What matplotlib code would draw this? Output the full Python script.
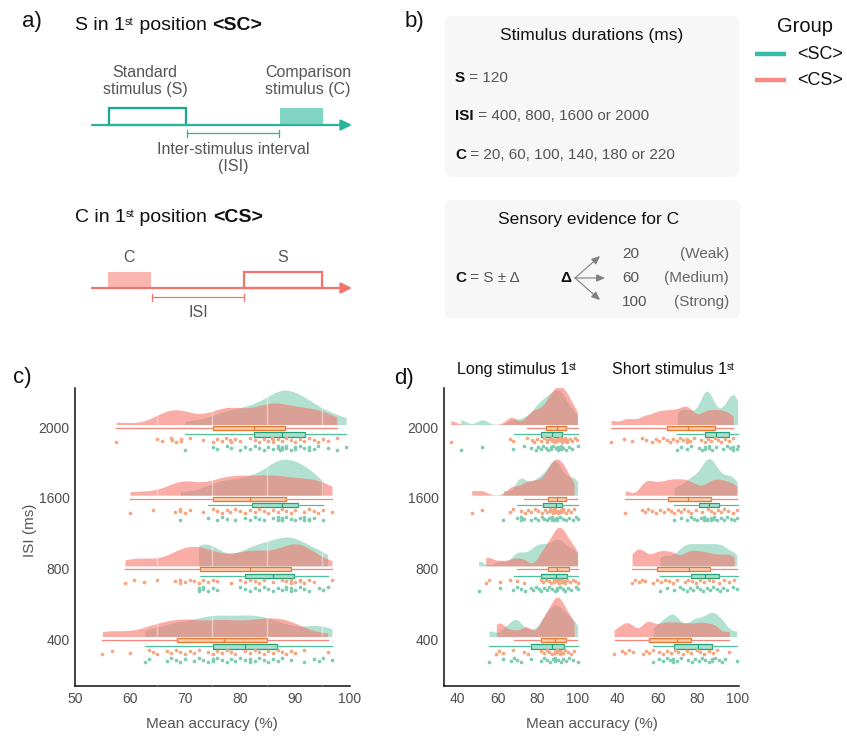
import matplotlib
matplotlib.use("Agg")
import matplotlib.pyplot as plt
import numpy as np
from matplotlib.patches import FancyBboxPatch, Rectangle

plt.rcParams["font.family"] = ["Liberation Sans", "DejaVu Sans"]

BLACK = "#111111"
GRAY = "#555555"
LIGHT_GRAY = "#666666"
TICK_GRAY = "#4D4D4D"

SC_DENS = "#66C2A5"
CS_DENS = "#F8766D"
SC_DOT = "#7ECDB2"
CS_DOT = "#F7A67F"
SC_EDGE = "#22A07A"
CS_EDGE = "#E5762C"
SC_FACE = "#A9DFCB"
CS_FACE = "#FBCBAA"
SC_WHISK = "#4FC29B"
CS_WHISK = "#F6857C"

TEAL_LINE = "#2BB39B"
TEAL_EDGE = "#14A88F"
TEAL_FILL = "#7FD4C4"
SALMON_LINE = "#F4736B"
SALMON_FILL = "#F9B6B0"

ISI_TICKS = [0, 1, 2, 3]
ISI_LABELS = ["400", "800", "1600", "2000"]

# ---- panel c: mean accuracy (%) per participant ----
C_CS_400 = [55.0, 56.7, 60.0, 63.4, 64.2, 65.0, 66.7, 67.5, 68.4, 69.2, 70.1, 70.9, 71.7, 72.5,
            74.2, 75.1, 75.9, 76.8, 77.6, 78.4, 79.2, 80.9, 81.8, 82.7, 83.5, 84.4, 85.2, 86.0,
            86.9, 87.7, 88.5, 89.4, 90.1, 91.8, 96.0]
C_SC_400 = [62.7, 63.4, 66.7, 67.5, 68.4, 69.2, 70.1, 71.7, 72.5, 73.4, 74.2, 75.1, 75.1, 75.9,
            76.8, 77.6, 78.4, 79.2, 80.1, 80.9, 81.8, 81.8, 82.7, 83.5, 84.4, 85.2, 86.0, 86.9,
            87.7, 89.4, 91.8, 93.5, 94.4, 95.2, 96.8]
C_CS_800 = [59.1, 60.8, 62.5, 65.0, 68.2, 69.2, 69.2, 70.1, 70.9, 71.7, 72.5, 73.4, 74.2, 75.1,
            75.9, 78.4, 80.1, 80.9, 81.8, 82.7, 83.5, 84.4, 86.0, 87.7, 88.5, 89.4, 89.4, 90.1,
            90.9, 90.9, 91.8, 92.7, 93.5, 96.8]
C_SC_800 = [72.5, 72.5, 72.5, 73.4, 73.4, 74.2, 75.1, 75.9, 80.1, 80.9, 81.8, 82.7, 83.5, 84.4,
            85.2, 86.0, 86.9, 87.7, 88.5, 88.5, 89.4, 89.4, 90.1, 90.9, 91.8, 92.7, 94.4, 95.2, 96.0]
C_CS_1600 = [60.0, 64.2, 68.2, 69.2, 69.2, 70.1, 70.9, 73.4, 75.1, 75.9, 76.8, 77.6, 78.3, 79.2,
             80.1, 80.9, 81.8, 82.7, 83.5, 84.4, 85.2, 86.0, 86.9, 87.7, 88.5, 89.4, 90.1, 91.8,
             92.7, 93.5, 94.3, 95.2, 96.8]
C_SC_1600 = [69.2, 74.3, 75.9, 76.8, 77.6, 79.2, 80.9, 81.8, 82.7, 83.5, 84.4, 86.0, 86.9, 86.9,
             86.9, 87.7, 87.7, 87.7, 88.5, 89.4, 90.1, 90.9, 91.8, 91.8, 92.7, 92.7, 93.5, 95.2]
C_CS_2000 = [57.5, 65.0, 65.8, 67.5, 67.6, 68.4, 69.3, 69.3, 70.9, 73.4, 75.1, 75.9, 76.8, 77.5,
             78.3, 78.5, 79.2, 80.1, 81.8, 82.7, 83.5, 84.4, 85.2, 85.9, 86.0, 86.0, 86.9, 87.7,
             88.5, 89.4, 90.1, 90.9, 91.7, 92.7, 93.5, 94.3, 95.2, 96.0, 97.7]
C_SC_2000 = [70.1, 75.1, 75.9, 77.6, 78.5, 80.1, 80.9, 81.8, 82.7, 83.5, 84.4, 85.2, 86.0, 86.9,
             86.9, 87.4, 87.7, 87.7, 88.5, 88.5, 89.4, 90.1, 90.1, 90.9, 91.8, 92.6, 92.6, 93.5,
             94.3, 96.0, 97.7, 99.4]

# box summaries: (lower whisker, q1, median, q3, upper whisker)
C_CS_400_BOX = (55.0, 68.6, 77.2, 85.0, 96.0)
C_SC_400_BOX = (62.7, 75.1, 80.9, 86.8, 96.8)
C_CS_800_BOX = (59.1, 72.8, 81.8, 89.4, 96.8)
C_SC_800_BOX = (72.7, 80.9, 86.0, 89.8, 96.0)
C_CS_1600_BOX = (60.0, 75.1, 81.8, 88.5, 96.8)
C_SC_1600_BOX = (74.3, 82.2, 87.7, 90.6, 95.2)
C_CS_2000_BOX = (57.5, 75.1, 82.6, 88.3, 97.7)
C_SC_2000_BOX = (70.1, 82.6, 87.7, 91.9, 99.4)

# ---- panel d: long stimulus first ----
L_CS_400 = [59.4, 60.8, 62.9, 67.9, 73.3, 75.3, 81.9, 83.3, 84.6, 85.9, 87.3, 88.6, 88.6, 89.9,
            89.9, 91.3, 91.3, 92.6, 93.9, 95.3, 96.6, 98.3]
L_SC_400 = [55.8, 62.9, 66.6, 68.3, 69.9, 71.9, 76.9, 81.9, 83.3, 84.9, 86.3, 87.6, 88.9, 88.9,
            90.3, 91.6, 92.9, 94.3, 95.9, 97.6, 100.0]
L_CS_800 = [54.1, 55.8, 61.1, 66.3, 69.9, 73.3, 81.6, 82.9, 84.3, 85.6, 86.9, 88.3, 88.3, 89.6,
            89.6, 90.9, 90.9, 92.3, 92.3, 93.6, 93.6, 94.9, 96.3, 97.6, 98.9, 100.0]
L_SC_800 = [50.6, 61.1, 67.9, 69.6, 71.8, 73.6, 76.6, 77.9, 79.3, 80.6, 81.9, 83.3, 84.6, 85.9,
            87.3, 88.6, 89.9, 89.9, 91.3, 92.6, 93.9, 95.3, 96.9, 99.1, 100.0]
L_CS_1600 = [47.1, 52.4, 66.3, 67.9, 71.6, 73.6, 75.4, 76.9, 78.6, 80.4, 82.1, 83.6, 84.9, 86.3,
             86.3, 87.6, 87.6, 88.9, 88.9, 90.3, 90.3, 91.6, 91.6, 92.9, 92.9, 94.3, 95.4, 96.6, 98.3]
L_SC_1600 = [62.9, 69.9, 71.6, 71.6, 73.3, 76.9, 78.6, 80.4, 82.1, 83.3, 84.6, 85.9, 87.3, 87.3,
             88.6, 88.6, 89.9, 89.9, 91.3, 92.6, 94.1, 95.8, 97.6, 99.3, 100.0]
L_CS_2000 = [36.6, 66.1, 67.7, 74.9, 77.1, 78.3, 79.9, 81.6, 83.3, 84.9, 84.9, 86.3, 87.4, 87.4,
             88.8, 88.8, 89.9, 89.9, 91.1, 91.1, 92.4, 92.4, 93.6, 93.6, 94.9, 94.9, 96.3, 97.4,
             98.8, 99.9]
L_SC_2000 = [41.6, 52.4, 67.9, 73.3, 76.9, 79.1, 80.4, 81.6, 82.8, 84.1, 85.3, 86.6, 86.6, 87.8,
             89.1, 90.3, 90.3, 91.6, 91.6, 92.9, 94.3, 95.8, 97.4, 100.0]

L_CS_400_BOX = (68.3, 81.9, 88.8, 94.3, 99.6)
L_SC_400_BOX = (55.8, 76.9, 87.4, 93.3, 100.0)
L_CS_800_BOX = (69.9, 85.4, 89.9, 95.9, 100.0)
L_SC_800_BOX = (68.3, 81.9, 89.1, 94.9, 100.0)
L_CS_1600_BOX = (73.3, 85.4, 89.9, 94.4, 99.6)
L_SC_1600_BOX = (69.9, 82.9, 89.1, 92.4, 100.0)
L_CS_2000_BOX = (74.8, 84.1, 89.9, 94.4, 100.0)
L_SC_2000_BOX = (68.3, 81.9, 87.1, 92.4, 100.0)

# ---- panel d: short stimulus first ----
S_CS_400 = [38.3, 42.1, 43.8, 45.9, 47.6, 52.6, 54.3, 55.9, 57.6, 60.6, 62.6, 64.6, 66.6, 68.8,
            70.4, 72.9, 74.9, 76.9, 79.6, 81.3, 83.3, 85.6, 87.9, 89.9, 95.9]
S_SC_400 = [57.9, 60.9, 62.9, 64.6, 66.3, 67.9, 67.9, 69.9, 71.9, 75.3, 77.3, 78.9, 80.6, 82.3,
            83.9, 85.6, 87.3, 87.3, 88.9, 90.6, 92.3, 93.9, 99.6]
S_CS_800 = [47.3, 48.9, 50.6, 52.3, 53.9, 57.6, 59.6, 61.6, 63.6, 65.6, 67.6, 69.9, 73.6, 75.3,
            77.3, 79.3, 81.3, 83.3, 85.6, 87.9, 90.6, 93.3, 95.9, 98.3]
S_SC_800 = [61.3, 64.6, 68.3, 71.3, 72.9, 74.6, 76.3, 77.9, 79.6, 81.3, 82.9, 84.6, 86.3, 87.9,
            89.6, 91.3, 92.9, 94.6, 97.6, 99.6]
S_CS_1600 = [43.8, 52.1, 53.8, 55.4, 57.1, 59.3, 61.3, 63.3, 65.1, 66.8, 68.4, 70.1, 71.8, 73.4,
             75.1, 76.8, 79.1, 82.1, 85.1, 86.8, 88.4, 90.1, 91.8, 93.4, 95.4, 97.6, 99.6]
S_SC_1600 = [68.3, 71.8, 74.9, 76.6, 78.3, 79.9, 81.6, 83.3, 83.3, 84.9, 84.9, 86.6, 86.6, 88.3,
             88.3, 89.9, 91.6, 93.3, 94.9, 96.6, 98.3, 99.9]
S_CS_2000 = [36.8, 43.4, 47.3, 52.4, 54.1, 57.4, 59.3, 60.9, 62.9, 64.6, 66.3, 67.9, 69.6, 71.3,
             72.9, 74.6, 74.6, 76.3, 78.4, 81.8, 83.6, 85.3, 86.9, 88.6, 90.3, 91.9, 93.8, 95.6, 97.9]
S_SC_2000 = [69.9, 71.6, 74.9, 76.6, 80.6, 82.3, 83.9, 83.9, 85.6, 85.6, 87.3, 89.3, 92.9, 94.6,
             96.3, 97.9, 97.9, 99.6, 100.0]

S_CS_400_BOX = (38.8, 55.9, 69.9, 76.9, 95.9)
S_SC_400_BOX = (57.9, 68.3, 80.4, 87.4, 99.6)
S_CS_800_BOX = (47.3, 59.9, 75.9, 86.3, 99.6)
S_SC_800_BOX = (61.3, 76.9, 83.9, 90.8, 100.0)
S_CS_1600_BOX = (43.8, 65.4, 75.1, 86.9, 99.6)
S_SC_1600_BOX = (68.3, 80.6, 85.6, 90.9, 100.0)
S_CS_2000_BOX = (36.8, 64.6, 75.1, 88.6, 97.9)
S_SC_2000_BOX = (69.9, 83.9, 89.1, 95.9, 100.0)

D_SHIFT = 80.0  # horizontal offset of the "short stimulus first" facet


def kde(values, bw):
    v = np.asarray(values, dtype=float)
    grid = np.linspace(v.min(), v.max(), 300)
    dens = np.exp(-0.5 * ((grid[:, None] - v[None, :]) / bw) ** 2).sum(axis=1)
    dens /= len(v) * bw * np.sqrt(2 * np.pi)
    return grid, dens


def raincloud(ax, base, sc_vals, cs_vals, sc_box, cs_box, shift=0.0, bw=2.3, scale=5.5):
    for vals, color, alpha, z in ((sc_vals, SC_DENS, 0.5, 2), (cs_vals, CS_DENS, 0.6, 3)):
        xs, ys = kde(vals, bw)
        ax.fill_between(xs + shift, base + 0.035, base + 0.035 + ys * scale,
                        color=color, alpha=alpha, linewidth=0, zorder=z)
    for stats, y, edge, face, whisk in ((cs_box, base - 0.014, CS_EDGE, CS_FACE, CS_WHISK),
                                       (sc_box, base - 0.106, SC_EDGE, SC_FACE, SC_WHISK)):
        lo, q1, med, q3, hi = stats
        ax.bxp([dict(whislo=lo + shift, q1=q1 + shift, med=med + shift, q3=q3 + shift,
                     whishi=hi + shift, fliers=[])],
               positions=[y], widths=0.06, orientation="horizontal", patch_artist=True,
               showcaps=False, showfliers=False, manage_ticks=False, zorder=5,
               boxprops=dict(facecolor=face, edgecolor=edge, linewidth=0.9),
               whiskerprops=dict(color=whisk, linewidth=0.9),
               medianprops=dict(color=edge, linewidth=0.9))
    for vals, y, color in ((cs_vals, base - 0.184, CS_DOT), (sc_vals, base - 0.297, SC_DOT)):
        v = np.sort(np.asarray(vals, dtype=float))
        jitter = ((np.arange(len(v)) * 3) % 5 - 2) * 0.013
        ax.scatter(v + shift, y + jitter, s=7, color=color, linewidth=0, zorder=6)


def style_axis(ax):
    ax.spines[["top", "right"]].set_visible(False)
    for side in ("left", "bottom"):
        ax.spines[side].set_linewidth(1.1)
        ax.spines[side].set_color(BLACK)
    ax.set_ylim(-0.665, 3.552)
    ax.set_yticks(ISI_TICKS, ISI_LABELS)
    ax.tick_params(length=0, labelsize=10, labelcolor=TICK_GRAY, pad=4)
    ax.set_xlabel("Mean accuracy (%)", fontsize=11, color=GRAY)
    ax.xaxis.set_label_coords(0.5, -0.104)
    ax.xaxis.label.set_va("top")


def chain(ax, x, y, parts, va="baseline"):
    base = prev = None
    for text, size, weight, color, sup in parts:
        kw = dict(fontsize=size, fontweight=weight, color=color, ha="left")
        if base is None:
            t = ax.text(x, y, text, va=va, **kw)
            base = t
        elif sup:
            t = ax.annotate(text, xy=(1, 1), xycoords=prev, va="top", **kw)
        else:
            t = ax.annotate(text, xy=(1, 0), xycoords=(prev, base), va="bottom", **kw)
        prev = t


def bracket(ax, x0, x1, y, color):
    ax.plot([x0, x1], [y, y], color=color, linewidth=0.9)
    ax.plot([x0, x0], [y - 3.5, y + 3.5], color=color, linewidth=0.9)
    ax.plot([x1, x1], [y - 3.5, y + 3.5], color=color, linewidth=0.9)


def arrow_line(ax, x0, x1, y, color):
    ax.annotate("", xy=(x1, y), xytext=(x0, y),
                arrowprops=dict(arrowstyle="-|>,head_length=0.65,head_width=0.32",
                                color=color, linewidth=1.6, shrinkA=0, shrinkB=0))


def diagram(ax):
    # panel a
    ax.text(22, 27, "a)", fontsize=16, color=BLACK)
    chain(ax, 75, 30, [("S in 1", 14, "normal", BLACK, False), ("st", 8, "normal", BLACK, True),
                       (" position ", 14, "normal", BLACK, False), ("<SC>", 14, "bold", BLACK, False)])
    ax.text(145, 81, "Standard\nstimulus (S)", fontsize=11.5, color=GRAY, ha="center", va="center",
            linespacing=1.2)
    ax.text(308, 81, "Comparison\nstimulus (C)", fontsize=11.5, color=GRAY, ha="center", va="center",
            linespacing=1.2)
    ax.add_patch(Rectangle((109, 108), 77, 17, fill=False, edgecolor=TEAL_EDGE, linewidth=1.6))
    ax.add_patch(Rectangle((280, 108), 43, 17, facecolor=TEAL_FILL, edgecolor="none"))
    arrow_line(ax, 92, 352, 125, TEAL_LINE)
    bracket(ax, 187, 279, 133, TEAL_LINE)
    ax.text(233, 158, "Inter-stimulus interval\n(ISI)", fontsize=11.5, color=GRAY, ha="center",
            va="center", linespacing=1.2)

    chain(ax, 75, 222, [("C in 1", 14, "normal", BLACK, False), ("st", 8, "normal", BLACK, True),
                        (" position ", 14, "normal", BLACK, False), ("<CS>", 14, "bold", BLACK, False)])
    ax.text(129, 257, "C", fontsize=11.5, color=GRAY, ha="center", va="center")
    ax.text(283, 257, "S", fontsize=11.5, color=GRAY, ha="center", va="center")
    ax.add_patch(Rectangle((108, 272), 43, 16, facecolor=SALMON_FILL, edgecolor="none"))
    ax.add_patch(Rectangle((244, 272), 78, 16, fill=False, edgecolor=SALMON_LINE, linewidth=1.6))
    arrow_line(ax, 92, 352, 288, SALMON_LINE)
    bracket(ax, 152, 244, 297, SALMON_LINE)
    ax.text(198, 312, "ISI", fontsize=11.5, color=GRAY, ha="center", va="center")

    # panel b
    ax.text(405, 27, "b)", fontsize=16, color=BLACK)
    for (x, y, w, h) in ((445, 16, 294, 161), (445, 200, 295, 118)):
        ax.add_patch(FancyBboxPatch((x, y), w, h, boxstyle="round,pad=0,rounding_size=6",
                                    facecolor="#F7F7F7", edgecolor="none"))
    ax.text(592, 35, "Stimulus durations (ms)", fontsize=12.5, color=BLACK, ha="center", va="center")
    chain(ax, 455, 78, [("S", 11, "bold", BLACK, False), (" = 120", 11, "normal", GRAY, False)],
          va="center")
    chain(ax, 455, 116, [("ISI", 11, "bold", BLACK, False),
                         (" = 400, 800, 1600 or 2000", 11, "normal", GRAY, False)], va="center")
    chain(ax, 455, 155, [("C", 11, "bold", BLACK, False),
                         (" = 20, 60, 100, 140, 180 or 220", 11, "normal", GRAY, False)], va="center")
    ax.text(589, 219, "Sensory evidence for C", fontsize=12.5, color=BLACK, ha="center", va="center")
    chain(ax, 455, 278, [("C", 11, "bold", BLACK, False), (" = S ± Δ", 11, "normal", GRAY, False)],
          va="center")
    ax.text(566, 278, "Δ", fontsize=11, fontweight="bold", color=BLACK, ha="center", va="center")
    for yy in (256, 278, 300):
        ax.annotate("", xy=(600 if yy != 278 else 605, yy), xytext=(575, 278),
                    arrowprops=dict(arrowstyle="-|>,head_length=0.5,head_width=0.22",
                                    color="#808080", linewidth=0.8, shrinkA=0, shrinkB=0))
    for yy, num, lab in ((254, "20", "(Weak)"), (278, "60", "(Medium)"), (302, "100", "(Strong)")):
        ax.text(622, yy, num, fontsize=11, color=GRAY, ha="left", va="center")
        ax.text(729, yy, lab, fontsize=11, color=LIGHT_GRAY, ha="right", va="center")

    # legend
    ax.text(805, 26, "Group", fontsize=14.5, color=BLACK, ha="center", va="center")
    for yy, col, lab in ((54, "#36BBA6", "<SC>"), (80, "#F98A83", "<CS>")):
        ax.plot([755, 786], [yy, yy], color=col, linewidth=3.2, solid_capstyle="butt")
        ax.text(797, yy, lab, fontsize=13, color=BLACK, ha="left", va="center")

    # panel labels / facet titles for c and d
    ax.text(13, 383, "c)", fontsize=16, color=BLACK)
    ax.text(394, 384, "d)", fontsize=16, color=BLACK)
    chain(ax, 457, 374, [("Long stimulus 1", 11.5, "normal", BLACK, False),
                         ("st", 7, "normal", BLACK, True)])
    chain(ax, 612, 374, [("Short stimulus 1", 11.5, "normal", BLACK, False),
                         ("st", 7, "normal", BLACK, True)])
    ax.text(30, 530, "ISI (ms)", fontsize=11, color=GRAY, rotation=90, ha="center", va="center")


def main():
    fig = plt.figure(figsize=(8.47, 7.37), dpi=100)

    ax_c = fig.add_axes([75 / 847, 51 / 737, 274.5 / 847, 298 / 737])
    c_sets = [(C_SC_400, C_CS_400, C_SC_400_BOX, C_CS_400_BOX),
              (C_SC_800, C_CS_800, C_SC_800_BOX, C_CS_800_BOX),
              (C_SC_1600, C_CS_1600, C_SC_1600_BOX, C_CS_1600_BOX),
              (C_SC_2000, C_CS_2000, C_SC_2000_BOX, C_CS_2000_BOX)]
    for pos, (sc, cs, scb, csb) in zip(ISI_TICKS, c_sets):
        raincloud(ax_c, pos, sc, cs, scb, csb, bw=2.6, scale=8.0)
    for gx in (65, 75, 85, 95):
        ax_c.axvline(gx, color="white", alpha=0.45, linewidth=1.0, zorder=3.5)
    ax_c.set_xlim(50, 100)
    ax_c.set_xticks([50, 60, 70, 80, 90, 100])
    style_axis(ax_c)

    ax_d = fig.add_axes([444 / 847, 51 / 737, 295.3 / 847, 298 / 737])
    long_sets = [(L_SC_400, L_CS_400, L_SC_400_BOX, L_CS_400_BOX),
                 (L_SC_800, L_CS_800, L_SC_800_BOX, L_CS_800_BOX),
                 (L_SC_1600, L_CS_1600, L_SC_1600_BOX, L_CS_1600_BOX),
                 (L_SC_2000, L_CS_2000, L_SC_2000_BOX, L_CS_2000_BOX)]
    short_sets = [(S_SC_400, S_CS_400, S_SC_400_BOX, S_CS_400_BOX),
                  (S_SC_800, S_CS_800, S_SC_800_BOX, S_CS_800_BOX),
                  (S_SC_1600, S_CS_1600, S_SC_1600_BOX, S_CS_1600_BOX),
                  (S_SC_2000, S_CS_2000, S_SC_2000_BOX, S_CS_2000_BOX)]
    for pos, (sc, cs, scb, csb) in zip(ISI_TICKS, long_sets):
        raincloud(ax_d, pos, sc, cs, scb, csb, shift=0.0, bw=2.6, scale=10.5)
    for pos, (sc, cs, scb, csb) in zip(ISI_TICKS, short_sets):
        raincloud(ax_d, pos, sc, cs, scb, csb, shift=D_SHIFT, bw=2.6, scale=10.5)
    ax_d.set_xlim(33.25, 100.9 + D_SHIFT)
    ax_d.set_xticks([40, 60, 80, 100, 40 + D_SHIFT, 60 + D_SHIFT, 80 + D_SHIFT, 100 + D_SHIFT],
                    ["40", "60", "80", "100", "40", "60", "80", "100"])
    style_axis(ax_d)

    overlay = fig.add_axes([0, 0, 1, 1])
    overlay.set_xlim(0, 847)
    overlay.set_ylim(737, 0)
    overlay.axis("off")
    diagram(overlay)

    fig.savefig("out.png", dpi=100, facecolor="white")
    plt.close(fig)


if __name__ == "__main__":
    main()
